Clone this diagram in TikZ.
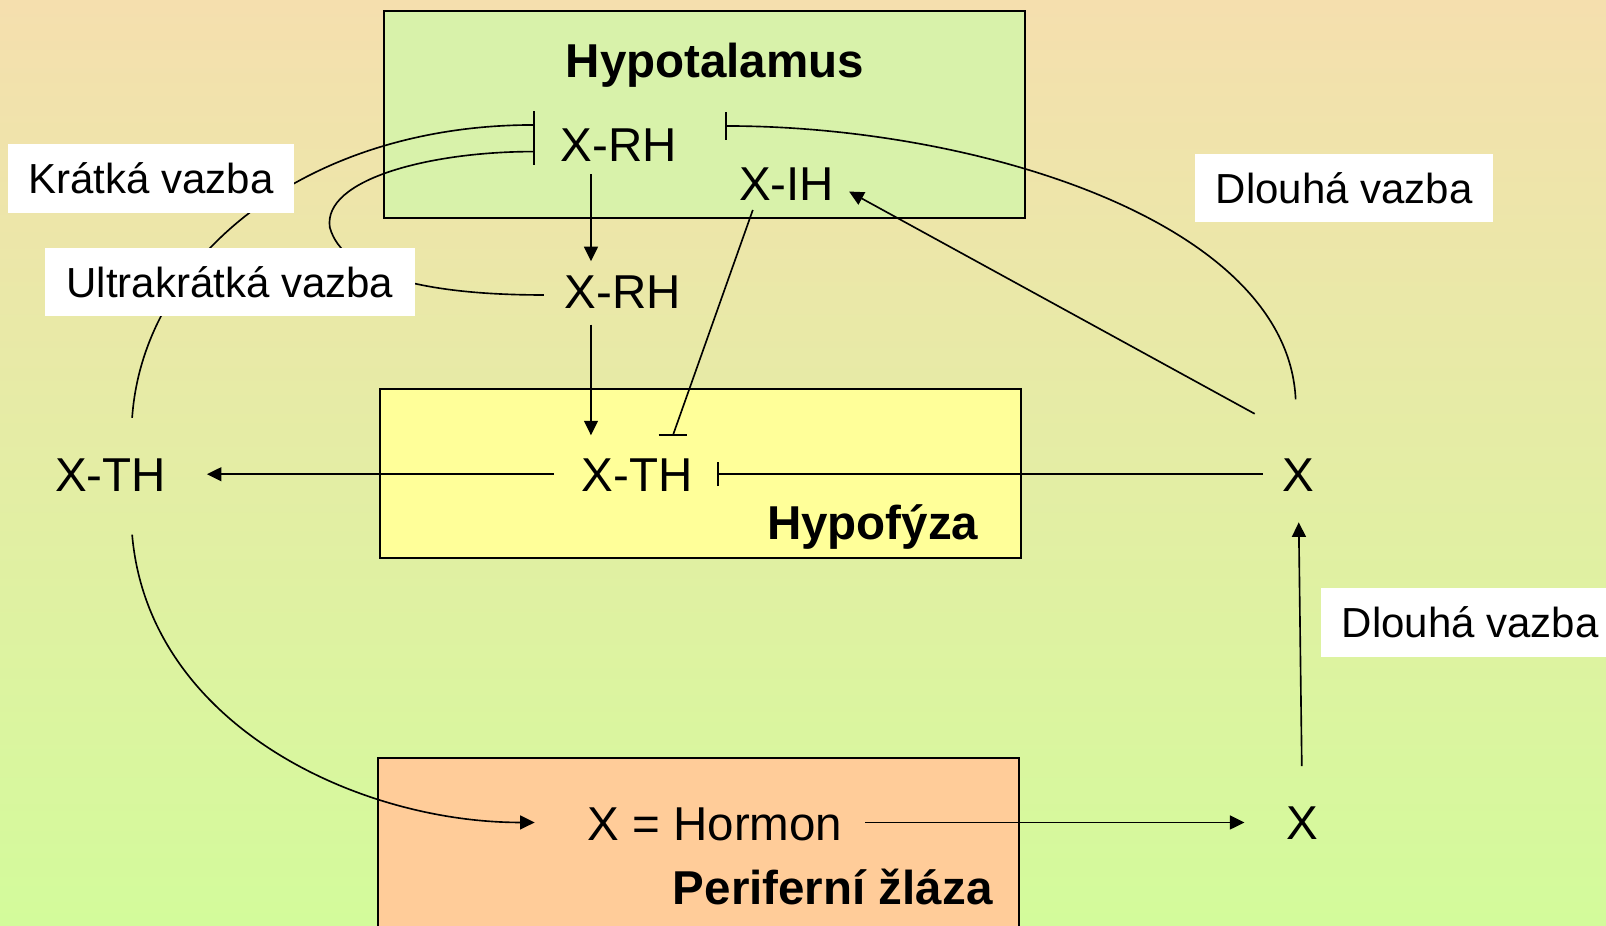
\documentclass[tikz,border=0pt]{standalone}
\usepackage{fontspec}
\setmainfont{Liberation Sans}
\usetikzlibrary{arrows.meta,calc}
\definecolor{bgtop}{RGB}{245,223,174}
\definecolor{bgbot}{RGB}{211,251,155}
\definecolor{hypfill}{RGB}{216,242,170}
\definecolor{hpffill}{RGB}{255,255,153}
\definecolor{perfill}{RGB}{255,204,153}
\begin{document}
\begin{tikzpicture}[x=0.5pt,y=-0.5pt,
  txt/.style={font=\fontsize{23.2}{28}\selectfont, inner sep=0pt, anchor=base},
  ttl/.style={txt, font=\fontsize{23.2}{28}\selectfont\bfseries},
  lbl/.style={fill=white, font=\fontsize{20.5}{24}\selectfont, minimum height=33.5pt, inner sep=0pt},
  organ/.style={draw=black, line width=1pt, inner sep=0pt},
  con/.style={line width=0.8pt},
  arr/.style={con, -{Triangle[length=7.1pt,width=6.8pt]}},
  inh/.style={con, -{Bar[width=13.5pt]}}
]
\useasboundingbox (0,0) rectangle (1568,904);
\clip (0,0) rectangle (1568,904);
\shade[top color=bgtop, bottom color=bgbot] (0,0) rectangle (1568,904);

% organ boxes
\node[organ, fill=hypfill, minimum width=313pt, minimum height=101pt] (hypbox) at (688,112) {};
\node[organ, fill=hpffill, minimum width=313pt, minimum height=82.5pt] (hpfbox) at (684,462.5) {};
\node[organ, fill=perfill, minimum width=313pt, minimum height=100pt] (perbox) at (682,840) {};

% texts
\node[ttl] (hyp) at (698,76) {Hypotalamus};
\node[ttl] (hpf) at (852,527) {Hypofýza};
\node[ttl] (per) at (813,883) {Periferní žláza};
\node[txt] (xrh1) at (604,158) {X-RH};
\node[txt] (xih) at (768,196) {X-IH};
\node[txt] (xrh2) at (608,301) {X-RH};
\node[txt] (xth) at (622,480) {X-TH};
\node[txt] (xthl) at (108,480) {X-TH};
\node[txt] (xr) at (1268,480) {X};
\node[txt] (xb) at (1272,820) {X};
\node[txt] (hor) at (698,821) {X = Hormon};

% connectors
\draw[arr] ($(xrh1.base)+(-27,12)$) -- ($(xrh2.base)+(-31,-46)$);
\draw[arr] ($(xrh2.base)+(-31,16)$) -- ($(xth.base)+(-45,-55)$);
\draw[con] ($(xih.base)+(-33,9)$) -- ($(xth.base)+(35,-55)$) coordinate (ihend);
\draw[con] ($(ihend)+(-14,0)$) -- ($(ihend)+(14,0)$);
\draw[arr] ($(xth.base)+(-81,-17)$) -- ($(xthl.base)+(94,-17)$);
\draw[con, -{Bar[width=11.5pt]}] ($(xr.base)+(-35,-17)$) -- ($(xth.base)+(78,-17)$);
\draw[arr] ($(xr.base)+(-43,-76)$) -- ($(xih.base)+(61,-9)$);
\draw[inh] ($(xr.base)+(-3,-90)$) .. controls (1257,215) and (950,123) .. ($(xrh1.base)+(104,-35)$);
\draw[arr] ($(xthl.base)+(21,42)$) .. controls (145,708) and (350,803) .. ($(hor.base)+(-176,-18)$);
\draw[inh] ($(xthl.base)+(21,-72)$) .. controls (140,250) and (300,122) .. ($(xrh1.base)+(-82,-36)$);
\draw[inh] ($(xrh2.base)+(-77,-13)$) .. controls (420,288) and (335,270) .. (322,222)
   .. controls (315,175) and (420,148) .. ($(xrh1.base)+(-82,-10)$);
\draw[arr] ($(xb.base)+(-1,-72)$) -- ($(xr.base)+(0,30)$);
\draw[arr] ($(hor.base)+(147,-18)$) -- ($(xb.base)+(-57,-17)$);

% labels
\node[lbl, minimum width=139.5pt] (krat) at (147.5,174.5) {Krátká vazba};
\node[lbl, minimum width=180.5pt] (ultra) at (224.5,275.5) {Ultrakrátká vazba};
\node[lbl, minimum width=145.5pt] (dl1) at (1312.5,183.5) {Dlouhá vazba};
\node[lbl, minimum width=145.5pt] (dl2) at (1435.5,607.5) {Dlouhá vazba};
\end{tikzpicture}
\end{document}
